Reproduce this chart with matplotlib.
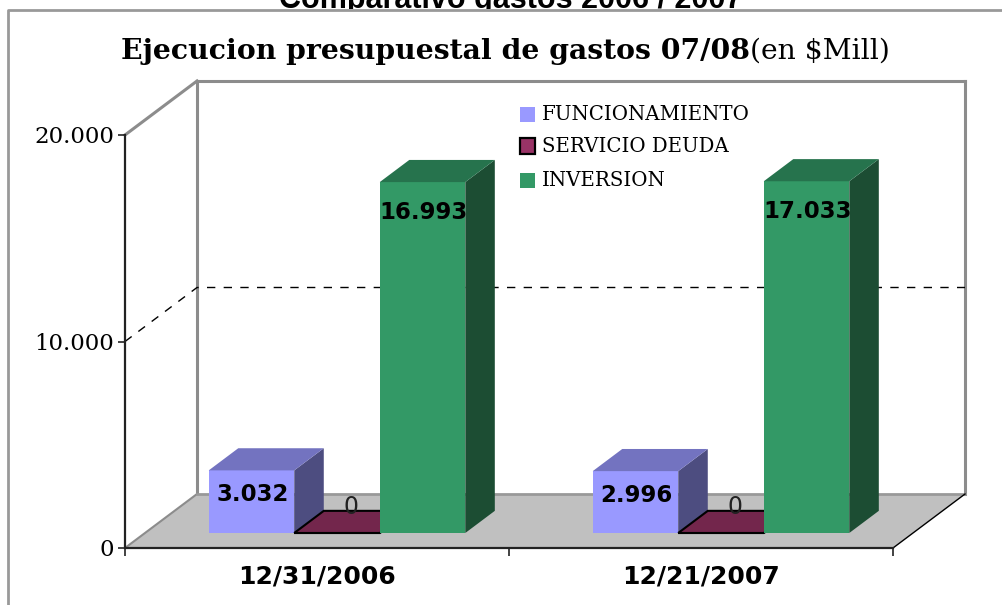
import matplotlib
matplotlib.use("Agg")
import matplotlib.pyplot as plt
from matplotlib.patches import Polygon, Rectangle
from matplotlib.lines import Line2D
from matplotlib.ticker import FuncFormatter

# ---------------- data ----------------
categories = ["12/31/2006", "12/21/2007"]
series = ["FUNCIONAMIENTO", "SERVICIO DEUDA", "INVERSION"]
funcionamiento = [3032, 2996]
servicio_deuda = [0, 0]
inversion = [16993, 17033]
values = [funcionamiento, servicio_deuda, inversion]
y_ticks = [0, 10000, 20000]

# ---------------- style ----------------
front_cols = ["#9999FF", "#993366", "#339966"]
top_cols = ["#7373C0", "#73264C", "#26734D"]
side_cols = ["#4D4D80", "#4D1A33", "#1C4D33"]

W, H = 1002, 605
fig = plt.figure(figsize=(W / 100, H / 100), dpi=100)
fig.patch.set_facecolor("white")

def fx(px):
    return px / W

def fy(py):
    return 1 - py / H

ax = fig.add_axes([fx(125), fy(548), 768 / W, 413 / H])
ax.set_xlim(0, len(categories))
ax.set_ylim(0, 20000)
ax.patch.set_visible(False)

# depth offsets (in data units): 72 px right and 54 px up for full depth
DZX = 72 / 384.0
DZY = 54 / (413 / 20000.0)

def P(x, v, z):
    return (x + DZX * z, v + DZY * z)

ymax = y_ticks[-1]
ncat = len(categories)
grey = "#8C8C8C"

# back wall and left wall edges
wall_lines = [
    [P(0, ymax, 0), P(0, ymax, 1)],
    [P(0, 0, 1), P(0, ymax, 1)],
    [P(0, ymax, 1), P(ncat, ymax, 1)],
    [P(ncat, ymax, 1), P(ncat, 0, 1)],
]
for seg in wall_lines:
    ax.add_line(Line2D([p[0] for p in seg], [p[1] for p in seg], color=grey,
                       lw=2.2, clip_on=False, zorder=1))

# dashed gridline at intermediate ticks
for t in y_ticks[1:-1]:
    pts = [P(0, t, 0), P(0, t, 1), P(ncat, t, 1)]
    ax.add_line(Line2D([p[0] for p in pts], [p[1] for p in pts], color="black",
                       lw=1.0, ls=(0, (6, 6)), clip_on=False, zorder=1))

# floor
floor = [P(0, 0, 0), P(ncat, 0, 0), P(ncat, 0, 1), P(0, 0, 1)]
ax.add_patch(Polygon(floor, closed=True, facecolor="#C0C0C0", edgecolor="none",
                     clip_on=False, zorder=2))
for seg, col, lw in [([P(0, 0, 0), P(0, 0, 1)], grey, 1.5),
                     ([P(0, 0, 1), P(ncat, 0, 1)], "#999999", 2.0),
                     ([P(ncat, 0, 0), P(ncat, 0, 1)], "black", 1.0)]:
    ax.add_line(Line2D([p[0] for p in seg], [p[1] for p in seg], color=col,
                       lw=lw, clip_on=False, zorder=2.5))

# bars
bw = 0.2227
z0, z1 = 0.278, 0.688
nser = len(series)
for i in range(ncat):
    for k in range(nser):
        v = values[k][i]
        x0 = i + 0.5 + (k - nser / 2.0) * bw
        x1 = x0 + bw
        ec = "black" if v == 0 else "none"
        lw = 1.5 if v == 0 else 0
        front = [P(x0, 0, z0), P(x1, 0, z0), P(x1, v, z0), P(x0, v, z0)]
        top = [P(x0, v, z0), P(x1, v, z0), P(x1, v, z1), P(x0, v, z1)]
        side = [P(x1, 0, z0), P(x1, 0, z1), P(x1, v, z1), P(x1, v, z0)]
        for poly, col in [(side, side_cols[k]), (front, front_cols[k]), (top, top_cols[k])]:
            ax.add_patch(Polygon(poly, closed=True, facecolor=col, edgecolor=ec,
                                 lw=lw, joinstyle="miter", clip_on=False, zorder=3))
        # data labels
        lab = f"{v:,}".replace(",", ".")
        if v == 0:
            ax.annotate(lab, xy=P((x0 + x1) / 2, v, z0), xytext=(14, 26),
                        textcoords="offset pixels", ha="center", va="center",
                        fontsize=17, color="#222222", family="DejaVu Sans",
                        zorder=5, annotation_clip=False)
        else:
            off = -24 if v < 10000 else -30
            ax.annotate(lab, xy=P((x0 + x1) / 2, v, z0), xytext=(1, off),
                        textcoords="offset pixels", ha="center", va="center",
                        fontsize=16.5, fontweight="bold", color="black",
                        family="DejaVu Sans", zorder=5, annotation_clip=False)

# axes: spines & ticks
for s in ["top", "right"]:
    ax.spines[s].set_visible(False)
ax.spines["left"].set_color("#222222")
ax.spines["left"].set_linewidth(1.6)
ax.spines["bottom"].set_color("#222222")
ax.spines["bottom"].set_linewidth(1.6)
ax.spines["left"].set_zorder(4)
ax.spines["bottom"].set_zorder(4)
ax.set_yticks(y_ticks)
ax.yaxis.set_major_formatter(FuncFormatter(lambda v, p: f"{int(v):,}".replace(",", ".")))
ax.tick_params(axis="y", direction="out", length=5, width=1.2, pad=3, color="#222222",
               labelsize=16.5)
for lab in ax.get_yticklabels():
    lab.set_family("DejaVu Serif")
ax.set_xticks(range(ncat + 1))
ax.set_xticklabels([])
ax.tick_params(axis="x", which="major", direction="out", length=6, width=1.2, color="#222222")
ax.set_xticks([i + 0.5 for i in range(ncat)], minor=True)
ax.set_xticklabels(categories, minor=True, fontsize=18, fontweight="bold",
                   family="DejaVu Sans")
ax.tick_params(axis="x", which="minor", length=0, pad=12)

# legend (manual)
leg_y = [114.5, 146, 180.5]
for k, name in enumerate(series):
    ec = "black" if k == 1 else "none"
    fig.add_artist(Rectangle((fx(520), fy(leg_y[k] + 7.5)), 15 / W, 15 / H,
                             facecolor=front_cols[k], edgecolor=ec, lw=1.6,
                             transform=fig.transFigure, zorder=5))
    fig.text(fx(542), fy(leg_y[k]), name, ha="left", va="center", fontsize=14.2,
             family="DejaVu Serif", color="black", zorder=5)

# titles
fig.text(fx(511), fy(8), "Comparativo gastos 2006 / 2007", ha="center", va="baseline",
         fontsize=22, fontweight="bold", family="Liberation Sans", zorder=-2)
fig.add_artist(Rectangle((fx(8), 0), 1 - fx(8), fy(9), facecolor="white",
                         edgecolor="none", transform=fig.transFigure, zorder=-1))
fig.add_artist(Line2D([fx(8), fx(8), 1.01], [0, fy(10), fy(10)], color="#999999", lw=2,
                      transform=fig.transFigure, zorder=-0.5))

t1 = fig.text(0, fy(59), "Ejecucion presupuestal de gastos 07/08", ha="left",
              va="baseline", fontsize=20.3, fontweight="bold", family="DejaVu Serif")
t2 = fig.text(0, fy(59), "(en $Mill)", ha="left", va="baseline", fontsize=20.3,
              family="DejaVu Serif")
fig.canvas.draw()
r = fig.canvas.get_renderer()
w1 = t1.get_window_extent(r).width
w2 = t2.get_window_extent(r).width
start = 505 - (w1 + w2) / 2
t1.set_x(fx(start))
t2.set_x(fx(start + w1))

fig.savefig("out.png", dpi=100)
